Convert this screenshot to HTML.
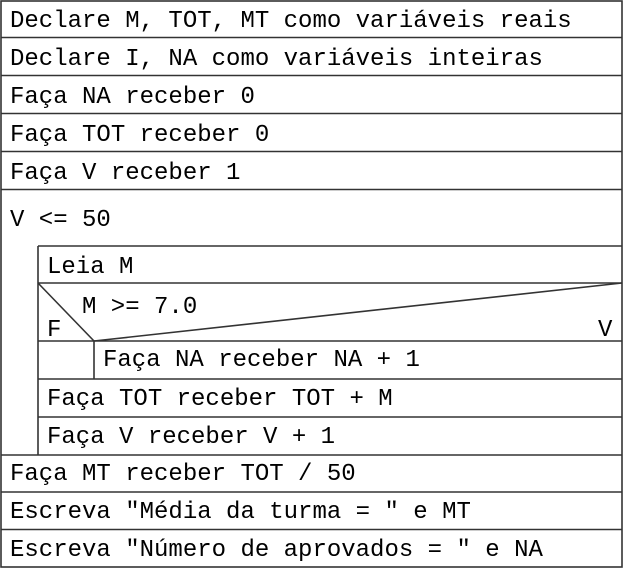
<!DOCTYPE html>
<html><head><meta charset="utf-8"><style>
html,body{margin:0;padding:0;background:#fff;}
svg{display:block;}
text{font-family:"Liberation Mono","DejaVu Sans Mono",monospace;font-size:24px;fill:#000;}
</style></head><body>
<svg width="625" height="568" viewBox="0 0 625 568" xmlns="http://www.w3.org/2000/svg">
<g stroke="#333" stroke-width="1.6" fill="none">
<rect x="1" y="1" width="621" height="566"/>
<line x1="1" y1="37.5" x2="622" y2="37.5"/>
<line x1="1" y1="75.5" x2="622" y2="75.5"/>
<line x1="1" y1="113.5" x2="622" y2="113.5"/>
<line x1="1" y1="151.5" x2="622" y2="151.5"/>
<line x1="1" y1="189.5" x2="622" y2="189.5"/>
<line x1="38" y1="246" x2="622" y2="246"/>
<line x1="38" y1="246" x2="38" y2="455"/>
<line x1="38" y1="283" x2="622" y2="283"/>
<line x1="38" y1="341" x2="622" y2="341"/>
<line x1="38" y1="283" x2="94" y2="341"/>
<line x1="94" y1="341" x2="622" y2="283"/>
<line x1="94" y1="341" x2="94" y2="379"/>
<line x1="38" y1="379" x2="622" y2="379"/>
<line x1="38" y1="417" x2="622" y2="417"/>
<line x1="1" y1="455" x2="622" y2="455"/>
<line x1="1" y1="492" x2="622" y2="492"/>
<line x1="1" y1="529.5" x2="622" y2="529.5"/>
</g>
<text x="10" y="27">Declare M, TOT, MT como variáveis reais</text>
<text x="10" y="65">Declare I, NA como variáveis inteiras</text>
<text x="10" y="103">Faça NA receber 0</text>
<text x="10" y="141">Faça TOT receber 0</text>
<text x="10" y="179">Faça V receber 1</text>
<text x="10" y="226">V &lt;= 50</text>
<text x="47" y="273">Leia M</text>
<text x="82" y="313">M &gt;= 7.0</text>
<text x="47" y="336">F</text>
<text x="598" y="336">V</text>
<text x="103" y="366">Faça NA receber NA + 1</text>
<text x="47" y="405">Faça TOT receber TOT + M</text>
<text x="47" y="443">Faça V receber V + 1</text>
<text x="10" y="480">Faça MT receber TOT / 50</text>
<text x="10" y="518">Escreva "Média da turma = " e MT</text>
<text x="10" y="556">Escreva "Número de aprovados = " e NA</text>
</svg>
</body></html>
